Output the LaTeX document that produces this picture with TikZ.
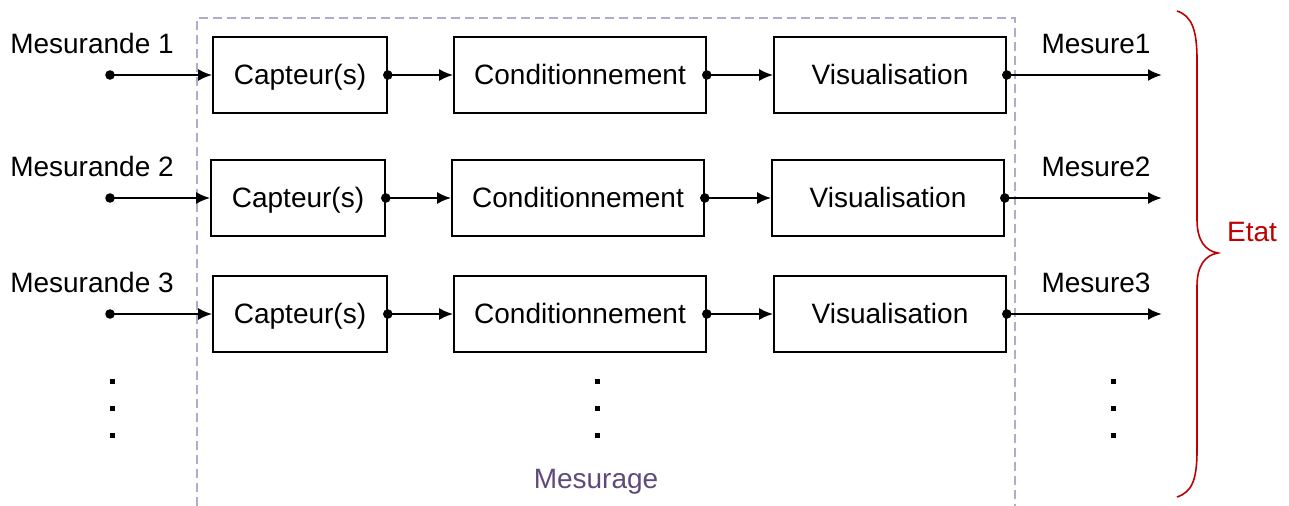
\documentclass[tikz,border=0pt]{standalone}
\usepackage{fontspec}
\setmainfont{Liberation Sans}
\usetikzlibrary{arrows.meta}
\definecolor{dashcol}{RGB}{180,170,208}
\definecolor{mesurage}{RGB}{96,74,123}
\definecolor{etatred}{RGB}{192,0,0}
\tikzset{
  blk/.style={draw, line width=0.8pt, minimum height=38pt, inner sep=0pt,
    font=\fontsize{14}{17}\selectfont, text height=10pt, text depth=0pt},
  cbox/.style={blk, minimum width=87pt},
  kbox/.style={blk, minimum width=126pt},
  vbox/.style={blk, minimum width=116pt},
  conn/.style={line width=1.2pt, -{Latex[length=7pt,width=6pt]}},
  lbl/.style={font=\fontsize{14}{17}\selectfont, anchor=base, inner sep=0pt},
  bdot/.style={fill=black},
}
\begin{document}
\begin{tikzpicture}[x=0.5pt,y=-0.5pt]
\useasboundingbox (0,0) rectangle (1289,506);
% dashed frame
\draw[dashcol, line width=1pt, dash pattern=on 4.5pt off 2.5pt] (197,506) -- (197,18) -- (1015,18) -- (1015,506);
% rows
\foreach \r/\y/\dx/\lb in {1/75/0/54, 2/198/-2/177, 3/314/0/293}{
  \node[cbox] (c\r) at (300+\dx,\y) {Capteur(s)};
  \node[kbox] (k\r) at (580+\dx,\y) {Conditionnement};
  \node[vbox] (v\r) at (890+\dx,\y) {Visualisation};
  \coordinate (in\r) at (110,\y);
  \coordinate (out\r) at (1162,\y);
  \node[lbl] (ml\r) at (92,\lb) {Mesurande \r};
  \node[lbl] (mo\r) at (1096,\lb) {Mesure\r};
  \draw[conn] (in\r) -- (c\r.west);
  \draw[conn] (c\r.east) -- (k\r.west);
  \draw[conn] (k\r.east) -- (v\r.west);
  \draw[conn] (v\r.east) -- (out\r);
  \fill[bdot] (in\r) circle (2.4pt);
  \fill[bdot] (c\r.east) circle (2.4pt);
  \fill[bdot] (k\r.east) circle (2.4pt);
  \fill[bdot] (v\r.east) circle (2.4pt);
}
% vertical ellipses
\foreach \x in {112,597,1113}{
  \foreach \y in {382,409,436}{
    \fill (\x-2.5,\y-2.5) rectangle (\x+2.5,\y+2.5);
  }
}
\node[font=\fontsize{14}{17}\selectfont, text=mesurage] (mes) at (596,482) {Mesurage};
% brace
\draw[etatred, line width=0.8pt] (1177,11) .. controls (1192,16) and (1197,30) .. (1197,60)
  -- (1197,220) .. controls (1197,240) and (1205,251) .. (1218,253)
  .. controls (1205,255) and (1197,266) .. (1197,286)
  -- (1197,450) .. controls (1197,480) and (1192,492) .. (1177,497);
\node[font=\fontsize{14}{17}\selectfont, text=etatred] (etat) at (1252,232) {Etat};
\end{tikzpicture}
\end{document}
